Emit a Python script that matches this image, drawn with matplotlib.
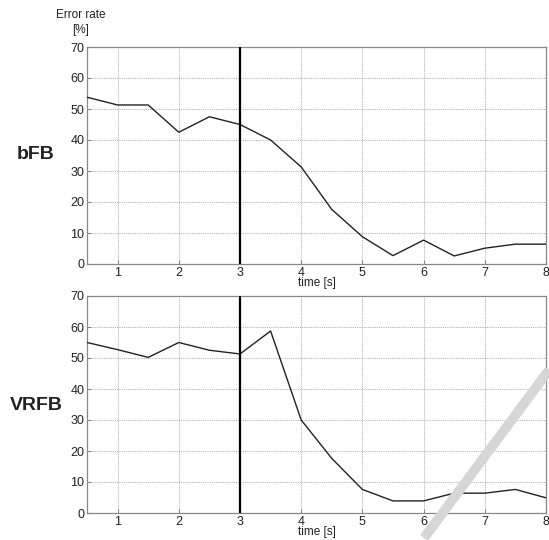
import matplotlib
matplotlib.use("Agg")
import matplotlib.pyplot as plt
from matplotlib.lines import Line2D

time_s = [0.5, 1, 1.5, 2, 2.5, 3, 3.5, 4, 4.5, 5, 5.5, 6, 6.5, 7, 7.5, 8]
bfb_err = [53.8, 51.3, 51.3, 42.5, 47.5, 45, 40, 31.3, 17.6, 8.8, 2.7, 7.7, 2.6, 5.1, 6.4, 6.4]
vrfb_err = [55, 52.7, 50.2, 55, 52.5, 51.3, 58.7, 30, 17.6, 7.6, 3.9, 3.9, 6.4, 6.4, 7.6, 4.9]
panel_names = ["bFB", "VRFB"]
xticks = [1, 2, 3, 4, 5, 6, 7, 8]
yticks = [0, 10, 20, 30, 40, 50, 60, 70]
marker_time = 3

plt.rcParams['font.family'] = ['Liberation Sans', 'DejaVu Sans']

fig = plt.figure(figsize=(5.49, 5.4), dpi=100)
W, H = 549, 540
ax_boxes = [(87, 47, 546, 264), (87, 296, 546, 513)]
series = [bfb_err, vrfb_err]
name_y = [155, 405]

for (x0, y0, x1, y1), data, name, ny in zip(ax_boxes, series, panel_names, name_y):
    ax = fig.add_axes([x0 / W, 1 - y1 / H, (x1 - x0) / W, (y1 - y0) / H])
    ax.plot(time_s, data, color='#222222', lw=1.0, zorder=3)
    ax.axvline(marker_time, color='black', lw=1.6, zorder=4)
    ax.set_xlim(0.5, 8)
    ax.set_ylim(0, 70)
    ax.set_xticks(xticks)
    ax.set_yticks(yticks)
    ax.grid(True, color='#999999', linestyle=(0, (1, 1.2)), lw=0.6)
    for s in ax.spines.values():
        s.set_color('#888888')
        s.set_linewidth(0.9)
    ax.tick_params(direction='in', length=3, color='#888888', labelsize=9,
                   labelcolor='#222222', pad=2)
    ax.set_xlabel('time [s]', fontsize=8.5, color='#222222', labelpad=-1)
    fig.text(36 / W, 1 - ny / H, name, fontsize=14, fontweight='bold',
             ha='center', va='center', color='#222222')

fig.text(81 / W, 1 - 22.5 / H, 'Error rate\n[%]', fontsize=8.5, ha='center',
         va='center', color='#222222', linespacing=1.25)

# faint diagonal band (scan artefact)
fig.add_artist(Line2D([424 / W, 549 / W], [1 - 538 / H, 1 - 370 / H],
                      transform=fig.transFigure, color='#d6d6d6', lw=7,
                      solid_capstyle='butt', zorder=10))

fig.savefig('out.png', dpi=100)
